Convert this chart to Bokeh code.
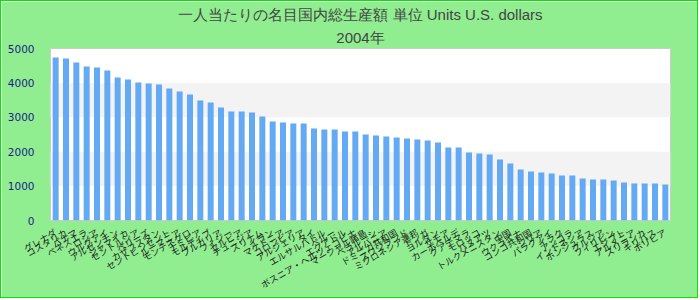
import math
from bokeh.plotting import figure
from bokeh.models import ColumnDataSource, FixedTicker, Title
from bokeh.embed import file_html
from bokeh.resources import INLINE

countries = [
    "グレナダ", "コスタリカ", "パナマ", "ベネズエラ", "ロシア", "ウルグアイ",
    "アルゼンチン", "ジャマイカ", "セントルシア", "ベリーズ", "カザフスタン",
    "セントビンセント", "ルーマニア", "モンテネグロ", "ナミビア",
    "モルディブ", "ブルガリア", "フィジー", "セルビア", "チュニジア", "スリナム",
    "イラン", "マケドニア", "コロンビア", "アルジェリア", "タイ", "エルサルバドル",
    "ペルー", "エクアドル", "ボスニア・ヘルツェゴビナ", "マーシャル諸島",
    "ベラルーシ", "アルバニア", "ドミニカ共和国", "スワジランド", "ミクロネシア連邦",
    "トンガ", "ヨルダン", "サモア", "カーボベルデ", "グアテマラ", "モロッコ",
    "バヌアツ", "トルクメニスタン", "中国", "ウクライナ", "コンゴ共和国", "シリア",
    "パラグアイ", "イラク", "アンゴラ", "インドネシア", "ホンジュラス", "グルジア",
    "フィリピン", "エジプト", "アルメニア", "スリランカ", "キリバス", "ボリビア",
]
values = [
    4738, 4709, 4593, 4477, 4448, 4360, 4157, 4099, 4012, 3983,
    3953, 3837, 3750, 3663, 3488, 3430, 3285, 3169, 3169, 3140,
    3023, 2878, 2849, 2820, 2820, 2674, 2645, 2645, 2587, 2587,
    2500, 2471, 2442, 2413, 2384, 2355, 2326, 2267, 2122, 2122,
    1977, 1948, 1919, 1773, 1657, 1483, 1424, 1395, 1366, 1308,
    1308, 1221, 1192, 1192, 1163, 1105, 1076, 1076, 1076, 1047,
]
y_ticks = [0, 1000, 2000, 3000, 4000, 5000]
title_line1 = "一人当たりの名目国内総生産額 単位 Units U.S. dollars"
title_line2 = "2004年"

source = ColumnDataSource(data=dict(country=countries, value=values))

p = figure(
    x_range=countries, y_range=(0, 5000),
    width=698, height=298,
    output_backend="svg", toolbar_location=None,
    min_border_left=49, min_border_right=29, min_border_top=47, min_border_bottom=78,
    background_fill_color="white", border_fill_color="#90ee90",
    outline_line_color="#cccccc", outline_line_width=1,
)
p.styles = {"border": "1px solid #00e600"}
p.x_range.range_padding = 0

def make_title(txt, standoff):
    return Title(text=txt, align="center", text_font="Liberation Sans",
                 text_font_size="15px", text_font_style="normal",
                 text_color="#444444", standoff=standoff)

p.title = make_title(title_line1, 2)
p.add_layout(make_title(title_line2, 6), "above")

p.vbar(x="country", top="value", width=0.58, source=source,
       fill_color="#63a9f3", line_color=None)

p.xgrid.grid_line_color = None
p.ygrid.grid_line_color = None
p.ygrid.band_fill_color = "#f3f3f3"
p.ygrid.band_fill_alpha = 1.0
p.yaxis.ticker = FixedTicker(ticks=y_ticks)

p.yaxis.axis_line_color = None
p.yaxis.major_tick_line_color = None
p.yaxis.minor_tick_line_color = None
p.yaxis.major_label_standoff = 10
p.yaxis.major_label_text_font = "DejaVu Sans"
p.yaxis.major_label_text_font_size = "10.5px"
p.yaxis.major_label_text_color = "#1c1c8c"

p.xaxis.axis_line_color = None
p.xaxis.major_tick_line_color = None
p.xaxis.minor_tick_line_color = None
p.xaxis.major_label_orientation = math.pi / 6
p.xaxis.major_label_standoff = 5
p.xaxis.major_label_text_font = "Noto Sans CJK JP"
p.xaxis.major_label_text_font_size = "9px"
p.xaxis.major_label_text_color = "#222222"

open("out.html", "w").write(file_html(p, INLINE))
